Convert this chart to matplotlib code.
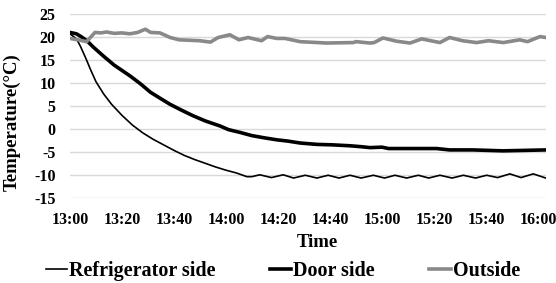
import matplotlib.pyplot as plt

plt.rcParams['font.family'] = ['Liberation Serif', 'DejaVu Serif']
plt.rcParams['font.weight'] = 'bold'
plt.rcParams['axes.unicode_minus'] = False

# minutes after 13:00
fridge_t = [0, 2.5, 4, 6, 8, 10, 13, 16, 20, 24, 28, 32, 36, 40, 44, 48, 52, 56, 60, 64,
            68, 70, 73, 77.5, 82, 86, 90.5, 95, 99.3, 103.5, 107.7, 112, 116.7, 121, 125,
            129.5, 134, 138, 142.3, 147, 151.3, 156, 160.3, 164.5, 169.2, 173.5, 178.2, 183]
fridge_v = [20.7, 19.6, 18.0, 15.5, 12.8, 10.3, 7.6, 5.4, 3.0, 0.9, -0.8, -2.2, -3.4, -4.6,
            -5.7, -6.6, -7.4, -8.2, -8.9, -9.5, -10.3, -10.3, -9.9, -10.5, -9.9, -10.6, -10.0,
            -10.6, -10.0, -10.6, -10.0, -10.6, -10.0, -10.6, -10.0, -10.6, -10.0, -10.6, -10.0,
            -10.6, -10.0, -10.6, -10.0, -10.5, -9.7, -10.5, -9.7, -10.6]

door_t = [0, 2.5, 4.5, 6.5, 9, 12.8, 17, 23, 27, 31, 35, 38.5, 43, 47.4, 52, 57.7, 61, 65.4,
          70, 75, 79.5, 84, 88.5, 95, 101, 107.7, 112, 115.4, 120, 122.5, 130, 141, 146, 155,
          166.5, 175, 183]
door_v = [21.0, 20.7, 20.0, 19.2, 17.8, 15.9, 13.9, 11.6, 9.9, 8.0, 6.6, 5.4, 4.1, 2.9, 1.8,
          0.7, -0.1, -0.7, -1.4, -1.9, -2.3, -2.6, -3.0, -3.3, -3.4, -3.6, -3.8, -4.0, -3.9,
          -4.2, -4.2, -4.2, -4.5, -4.5, -4.7, -4.6, -4.5]

out_t = [0, 3, 6.4, 9.6, 12, 14, 17, 20, 23, 26, 29, 31, 34.6, 38.5, 42, 46, 50, 54, 57,
         61.5, 65, 68.5, 73.7, 76, 79.5, 82.7, 88.5, 98.7, 109, 110, 115.4, 117, 120.4, 125.6,
         130.8, 135.3, 142.3, 146, 151, 156.4, 161, 166.7, 173, 176, 180.8, 183]
out_v = [19.7, 19.4, 19.0, 21.0, 20.9, 21.1, 20.8, 20.9, 20.7, 21.0, 21.7, 21.0, 20.9, 19.9,
         19.4, 19.3, 19.2, 18.9, 19.9, 20.5, 19.4, 19.9, 19.2, 20.1, 19.7, 19.7, 19.0, 18.7,
         18.8, 19.0, 18.7, 18.8, 19.8, 19.1, 18.7, 19.6, 18.8, 19.9, 19.2, 18.8, 19.2, 18.8,
         19.4, 19.0, 20.1, 19.9]

tick_min = [0, 20, 40, 60, 80, 100, 120, 140, 160, 180]
tick_lbl = ["13:00", "13:20", "13:40", "14:00", "14:20", "14:40", "15:00", "15:20", "15:40", "16:00"]

fig = plt.figure(figsize=(5.56, 2.83), dpi=100)
ax = fig.add_axes([0.1259, 0.2993, 0.8556, 0.6512])

ax.plot(fridge_t, fridge_v, color='black', lw=1.2, label='Refrigerator side')
ax.plot(door_t, door_v, color='black', lw=2.6, label='Door side')
ax.plot(out_t, out_v, color='#898989', lw=2.6, label='Outside')

ax.set_xlim(0, 183)
ax.set_ylim(-15, 25)
ax.set_yticks(range(-15, 26, 5))
ax.set_xticks(tick_min)
ax.set_xticklabels(tick_lbl)
ax.grid(axis='y', color='#d9d9d9', lw=1)
ax.set_axisbelow(True)
for s in ax.spines.values():
    s.set_visible(False)
ax.tick_params(axis='both', length=0, labelsize=11.5)
ax.tick_params(axis='x', pad=10)
ax.tick_params(axis='y', pad=10.5)

ax.set_xlabel('Time', fontsize=13.5, fontweight='bold')
ax.xaxis.set_label_coords(0.521, -0.195)
ax.set_ylabel('Temperature(°C)', fontsize=13.5, fontweight='bold')
ax.yaxis.set_label_coords(-0.103, 0.414)

fig.legend(loc='center', bbox_to_anchor=(0.509, 0.042), ncol=3, frameon=False,
           fontsize=14.5, handlelength=1.05, handletextpad=0.1, columnspacing=2.7)

fig.savefig('out.png', dpi=100)
